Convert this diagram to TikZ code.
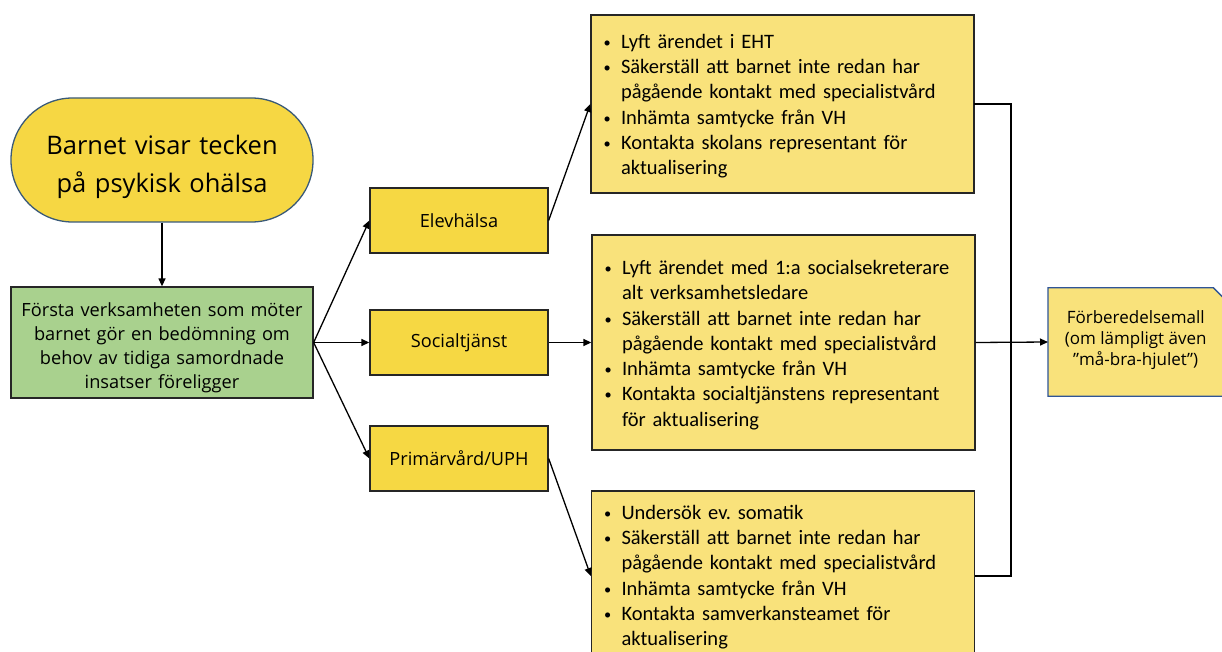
\documentclass[tikz,border=0pt]{standalone}
\usepackage{fontspec}
\setmainfont{Carlito}
\newfontfamily\segoe{Open Sans}
\usetikzlibrary{arrows.meta}
\definecolor{termfill}{HTML}{F6D743}
\definecolor{termline}{HTML}{3A5A78}
\definecolor{boxfill}{HTML}{F6D843}
\definecolor{bulletfill}{HTML}{F9E27B}
\definecolor{greenfill}{HTML}{A9D18E}
\definecolor{docline}{HTML}{2F5597}
\definecolor{edge}{HTML}{262626}
\newcommand{\bitem}[1]{\par\noindent\hangindent=18pt\hangafter=1\makebox[18pt][l]{\hspace{0.5pt}\raisebox{1pt}{\scalebox{0.7}{\textbullet}}}#1}
\newcommand{\blistend}[1]{\par\kern#1}
\tikzset{
  base/.style={draw=edge, line width=1.3pt},
  termbox/.style={base, draw=termline, fill=termfill, rounded corners=61.5pt, minimum width=302pt, minimum height=124pt, text width=300pt, align=center, font=\segoe\fontsize{25.5}{38}\selectfont, inner sep=0pt},
  greenbox/.style={base, fill=greenfill, minimum width=302pt, minimum height=111pt, text width=300pt, align=center, font=\segoe\fontsize{18.2}{23.8}\selectfont, inner sep=0pt},
  orgbox/.style={base, fill=boxfill, minimum width=178pt, minimum height=65pt, align=center, font=\segoe\fontsize{18.2}{22}\selectfont, inner sep=0pt},
  listbox/.style={base, fill=bulletfill, minimum width=383pt, inner xsep=12pt, inner ysep=0pt, text width=359pt, align=left, font=\frenchspacing\fontsize{20.5}{25.3}\selectfont},
  docbox/.style={minimum width=175pt, minimum height=108pt, inner sep=0pt, align=center, font=\segoe\fontsize{17}{21}\selectfont},
  conn/.style={line width=1.3pt, draw=black},
  arr/.style={conn, -{Triangle[length=8pt,width=7pt]}},
}
\begin{document}
\begin{tikzpicture}[x=1pt,y=-1pt]
\useasboundingbox (0,0) rectangle (1222,652);
\clip (0,0) rectangle (1222,652);
\fill[white] (0,0) rectangle (1222,652);

\node[termbox] (start) at (162,160) {\rule{0pt}{33pt}Barnet visar tecken\\på psykisk ohälsa};
\node[greenbox] (first) at (162,342.5) {\rule{0pt}{24pt}Första verksamheten som möter\\barnet gör en bedömning om\\behov av tidiga samordnade\\insatser föreligger};

\node[orgbox] (elev) at (459,220.5) {Elevhälsa};
\node[orgbox] (soc) at (459,342.5) {Socialtjänst};
\node[orgbox] (prim) at (459,458.5) {Primärvård/UPH};

\node[listbox, minimum height=178pt] (b1) at (782.5,104) {%
\bitem{Lyft ärendet i EHT}
\bitem{Säkerställ att barnet inte redan har\newline pågående kontakt med specialistvård}
\bitem{Inhämta samtycke från VH}
\bitem{Kontakta skolans representant för\newline aktualisering}\blistend{7pt}};
\node[listbox, minimum height=215pt] (b2) at (783.5,342.5) {%
\bitem{Lyft ärendet med 1:a socialsekreterare\newline alt verksamhetsledare}
\bitem{Säkerställ att barnet inte redan har\newline pågående kontakt med specialistvård}
\bitem{Inhämta samtycke från VH}
\bitem{Kontakta socialtjänstens representant\newline för aktualisering}\blistend{6pt}};
\node[listbox, minimum height=170pt] (b3) at (783,576) {%
\bitem{Undersök ev. somatik}
\bitem{Säkerställ att barnet inte redan har\newline pågående kontakt med specialistvård}
\bitem{Inhämta samtycke från VH}
\bitem{Kontakta samverkansteamet för\newline aktualisering}\blistend{9pt}};

\node[docbox, anchor=west] (doc) at (1048,342) {};
\fill[bulletfill] (doc.north west) -- ([xshift=-10pt]doc.north east) -- ([yshift=-10pt]doc.north east) -- (doc.south east) -- (doc.south west) -- cycle;
\draw[line width=1.3pt, draw=docline] (doc.north west) -- ([xshift=-10pt]doc.north east) -- ([yshift=-10pt]doc.north east) -- (doc.south east) -- (doc.south west) -- cycle;
\node[docbox] (doctext) at ([yshift=1.5pt]doc.center) {Förberedelsemall\\(om lämpligt även\\”må-bra-hjulet”)};

\draw[arr] (start.south) -- (first.north);
\draw[arr] (first.east) -- (elev.west);
\draw[arr] (first.east) -- (soc.west);
\draw[arr] (first.east) -- (prim.west);
\draw[arr] (elev.east) -- (b1.west);
\draw[arr] (soc.east) -- (b2.west);
\draw[arr] (prim.east) -- (b3.west);

\coordinate (jt) at (1011,104);
\coordinate (jb) at (1011,576);
\draw[conn, line cap=rect] (b1.east) -- (jt) -- (jb) -- (b3.east);
\draw[arr] (b2.east) -- (doc.west);
\end{tikzpicture}
\end{document}
